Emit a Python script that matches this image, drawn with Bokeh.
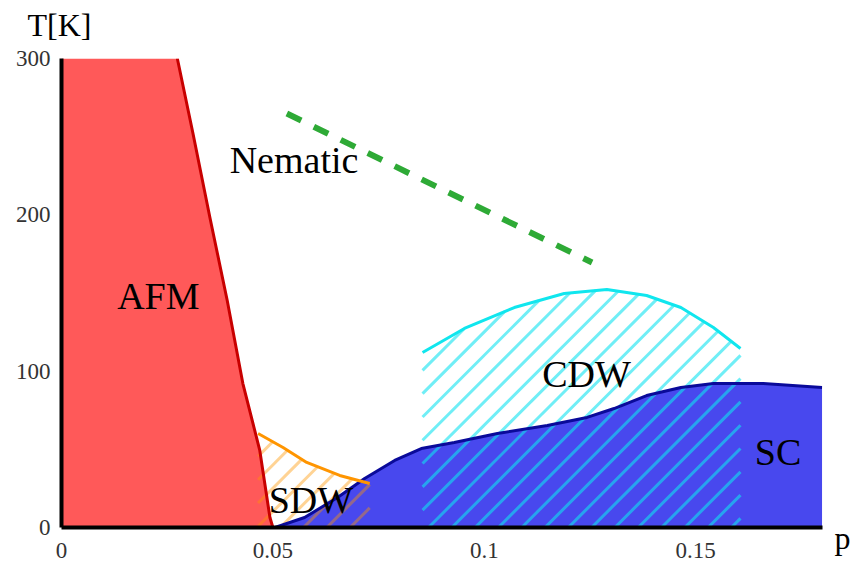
import numpy as np
from bokeh.plotting import figure
from bokeh.models import Range1d, Label, FixedTicker
from bokeh.core.properties import value
from bokeh.embed import file_html
from bokeh.resources import INLINE

# ---- data (doping p, temperature T[K]) ----
afm_p = [0.0274, 0.0311, 0.0351, 0.0392, 0.0429, 0.0469, 0.0493, 0.0500]
afm_T = [300.0, 252.0, 198.3, 145.2, 92.1, 49.3, 6.4, 0.0]

sc_p = [0.0505, 0.0575, 0.0653, 0.0717, 0.0788, 0.0851, 0.0929, 0.1031,
        0.1149, 0.1243, 0.1307, 0.1384, 0.1465, 0.1542, 0.1660, 0.1799]
sc_T = [0.0, 6.4, 19.2, 31.3, 42.9, 50.5, 54.4, 60.1,
        65.2, 70.4, 76.1, 84.4, 89.6, 92.1, 92.1, 89.6]

sdw_p = [0.0465, 0.0524, 0.0580, 0.0658, 0.0729]
sdw_T = [60.1, 51.2, 41.6, 33.3, 28.1]

cdw_p = [0.0854, 0.0953, 0.1071, 0.1189, 0.1290, 0.1384, 0.1465, 0.1542, 0.1606]
cdw_T = [111.9, 127.3, 140.7, 149.7, 152.2, 148.4, 140.7, 127.9, 114.5]

nem_p = [0.0533, 0.1255]
nem_T = [264.8, 169.5]

x_ticks = [0, 0.05, 0.1, 0.15]
x_tick_labels = ["0", "0.05", "0.1", "0.15"]
y_ticks = [0, 100, 200, 300]

region_names = ["Nematic", "AFM", "SDW", "CDW", "SC"]
region_p = [0.0550, 0.0229, 0.0590, 0.1242, 0.1695]
region_T = [234.8, 147.8, 17.3, 98.5, 48.6]

SERIF = "Liberation Serif"

# ---- layout ----
W, H = 854, 562
BL, BR, BT, BB = 61, 32, 58, 35
X0, X1, Y0, Y1 = 0.0, 0.18, 0.0, 300.0

p = figure(width=W, height=H,
           x_range=Range1d(X0, X1), y_range=Range1d(Y0, Y1),
           output_backend="svg", toolbar_location=None,
           min_border_left=BL, min_border_right=BR,
           min_border_top=BT, min_border_bottom=BB)
p.outline_line_color = None
p.grid.visible = False
p.background_fill_color = "white"
p.border_fill_color = "white"

# pixel scales of the frame (used only to give the hatching a 45 degree angle)
sx = (W - BL - BR) / (X1 - X0)
sy = (H - BT - BB) / (Y1 - Y0)
FB = H - BB  # frame bottom in screen px


def hatch_segments(bp, bT, c0, step):
    xs = np.linspace(bp[0], bp[-1], 6001)
    f = np.interp(xs, bp, bT)
    px = BL + (xs - X0) * sx
    cmin = px[0] + FB - max(bT) * sy
    cmax = px[-1] + FB
    k0 = int(np.floor((cmin - c0) / step))
    k1 = int(np.ceil((cmax - c0) / step))
    out = ([], [], [], [])
    for k in range(k0, k1 + 1):
        c = c0 + k * step
        T = (px + FB - c) / sy
        idx = np.nonzero((T >= 0) & (T <= f))[0]
        if len(idx) < 2:
            continue
        i0, i1 = idx[0], idx[-1]
        out[0].append(xs[i0]); out[1].append(T[i0])
        out[2].append(xs[i1]); out[3].append(T[i1])
    return out


# AFM region
p.patch(x=[0, 0] + afm_p, y=[0, 300] + afm_T,
        fill_color="#FF5959", line_color=None)

# SC region
p.patch(x=sc_p + [sc_p[-1]], y=sc_T + [0],
        fill_color="#4848EE", line_color=None)

# SDW hatch
sx0, sy0, sx1, sy1 = hatch_segments(sdw_p, sdw_T, 830.0, 23.3)
p.segment(x0=sx0, y0=sy0, x1=sx1, y1=sy1, line_color="#FF9500",
          line_alpha=0.42, line_width=3, line_cap="butt")

# CDW hatch
cx0, cy0, cx1, cy1 = hatch_segments(cdw_p, cdw_T, 955.0, 23.3)
p.segment(x0=cx0, y0=cy0, x1=cx1, y1=cy1, line_color="#10E2F0",
          line_alpha=0.6, line_width=3, line_cap="butt")

# boundaries
p.line(afm_p, afm_T, line_color="#C80000", line_width=3)
p.line(sc_p, sc_T, line_color="#0A0A9A", line_width=3)
p.line(sdw_p, sdw_T, line_color="#FF9500", line_width=3)
p.line(cdw_p, cdw_T, line_color="#10E6EE", line_width=3)
p.line(nem_p, nem_T, line_color="#2EAA36", line_width=6,
       line_dash="16 14", line_cap="butt")

# region labels
p.text(x=region_p, y=region_T, text=region_names,
       text_font=value(SERIF), text_font_size="38px",
       text_align="center", text_baseline="alphabetic", text_color="black")

# axes
for ax in (p.xaxis[0], p.yaxis[0]):
    ax.axis_line_width = 4
    ax.axis_line_color = "black"
    ax.major_tick_line_color = None
    ax.minor_tick_line_color = None
    ax.major_label_text_font = SERIF
    ax.major_label_text_font_size = "23px"
    ax.major_label_text_color = "#333333"

p.xaxis.ticker = FixedTicker(ticks=x_ticks)
p.xaxis.major_label_overrides = {t: s for t, s in zip(x_ticks, x_tick_labels)}
p.xaxis.major_label_standoff = 9
p.yaxis.ticker = FixedTicker(ticks=y_ticks)
p.yaxis.major_label_standoff = 5

# axis names, in side panels (so they are not clipped to the frame),
# positioned in canvas pixels
p.add_layout(Label(x=27, y=24, x_units="canvas", y_units="canvas",
                   text="T[K]", text_font=SERIF, text_font_size="32px",
                   text_color="black", text_baseline="alphabetic"), "above")
p.add_layout(Label(x=834, y=537, x_units="canvas", y_units="canvas",
                   text="p", text_font=SERIF, text_font_size="32px",
                   text_color="black", text_baseline="alphabetic"), "right")

open("out.html", "w").write(file_html(p, INLINE))
